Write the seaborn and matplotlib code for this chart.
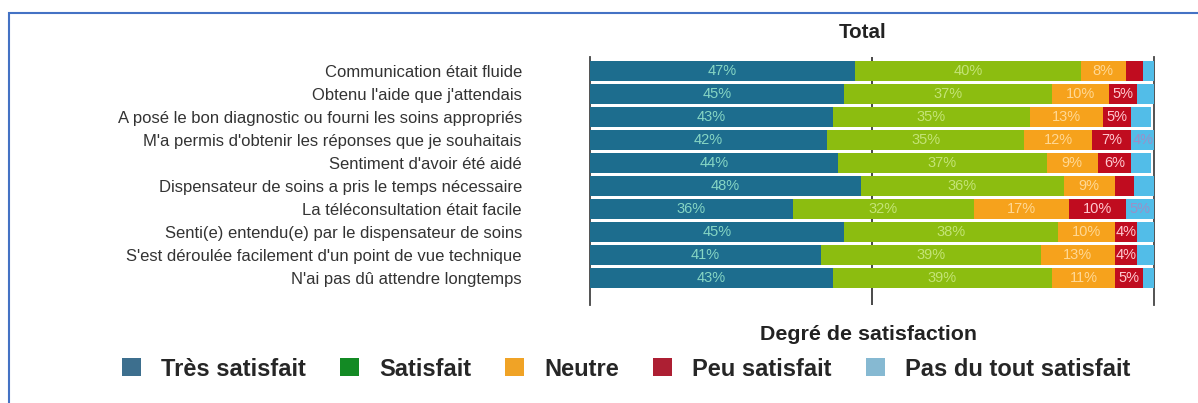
import numpy as np
import pandas as pd
import seaborn as sns
import matplotlib.pyplot as plt
from matplotlib.patches import Patch, Rectangle

# Data (percent per answer)
items = [
    "Communication était fluide",
    "Obtenu l'aide que j'attendais",
    "A posé le bon diagnostic ou fourni les soins appropriés",
    "M'a permis d'obtenir les réponses que je souhaitais",
    "Sentiment d'avoir été aidé",
    "Dispensateur de soins a pris le temps nécessaire",
    "La téléconsultation était facile",
    "Senti(e) entendu(e) par le dispensateur de soins",
    "S'est déroulée facilement d'un point de vue technique",
    "N'ai pas dû attendre longtemps",
]
tres_satisfait = [47, 45, 43, 42, 44, 48, 36, 45, 41, 43]
satisfait = [40, 37, 35, 35, 37, 36, 32, 38, 39, 39]
neutre = [8, 10, 13, 12, 9, 9, 17, 10, 13, 11]
peu_satisfait = [3, 5, 5, 7, 6, 3.5, 10, 4, 4, 5]
pas_du_tout = [2, 3, 3.5, 4, 3.5, 3.5, 5, 3, 3, 2]

categories = ["Très satisfait", "Satisfait", "Neutre", "Peu satisfait", "Pas du tout satisfait"]

df = pd.DataFrame({
    "item": items,
    "Très satisfait": tres_satisfait,
    "Satisfait": satisfait,
    "Neutre": neutre,
    "Peu satisfait": peu_satisfait,
    "Pas du tout satisfait": pas_du_tout,
})
cum = df[categories].cumsum(axis=1)

bar_colors = ["#1d6d8e", "#8cbd10", "#f6a21c", "#c00c1f", "#52bde8"]
text_colors = ["#86d6c4", "#c4e476", "#ffd894", "#ffc8cf", "#9a90c8"]
legend_colors = ["#3d6f8e", "#138a24", "#f0a326", "#ad1f33", "#86b9d2"]

sns.set_theme(style="white")
plt.rcParams["font.family"] = ["Liberation Sans", "DejaVu Sans"]

fig = plt.figure(figsize=(11.98, 4.03), dpi=100)
ax = fig.add_axes([590 / 1198, 98 / 403, 564 / 1198, 248 / 403])

# stacked bars: draw cumulative totals from the outermost segment inward
for cat, col in reversed(list(zip(categories, bar_colors))):
    sns.barplot(x=cum[cat], y=df["item"], order=items, color=col, saturation=1,
                width=0.83, orient="h", ax=ax, linewidth=0, zorder=2)

# segment labels
for i, item in enumerate(items):
    for j, cat in enumerate(categories):
        v = df.loc[i, cat]
        if v >= 4:
            xc = cum.loc[i, cat] - v / 2
            ax.text(xc, i, f"{v:.0f}%", ha="center", va="center",
                    color=text_colors[j], fontsize=10.5, zorder=3)

ax.set_xlim(0, 100)
ax.set_ylim(9 + 27 / 23, -14 / 23)
ax.axvline(50, color="#3a3a3a", lw=1.3, zorder=1)
ax.set_xticks([])
ax.set_xlabel("")
ax.set_ylabel("")
ax.tick_params(axis="y", length=0, pad=49, labelsize=12, labelcolor="#333333")
for s in ["top", "bottom"]:
    ax.spines[s].set_visible(False)
for s in ["left", "right"]:
    ax.spines[s].set_color("#444444")
    ax.spines[s].set_linewidth(1.3)
    ax.spines[s].set_zorder(1)

fig.text(863 / 1198, 1 - 32 / 403, "Total", ha="center", va="center",
         fontweight="bold", fontsize=14.8, color="#222222")
fig.text(868 / 1198, 1 - 335 / 403, "Degré de satisfaction", ha="center", va="center",
         fontweight="bold", fontsize=15.4, color="#222222")

handles = [Patch(facecolor=c, edgecolor="none", label=l) for l, c in zip(categories, legend_colors)]
fig.legend(handles=handles, loc="center", bbox_to_anchor=(626 / 1198, 1 - 369 / 403),
           ncol=5, frameon=False, prop=dict(weight="bold", size=17),
           handlelength=0.8, handleheight=0.8, handletextpad=0.85, columnspacing=1.45,
           borderpad=0, borderaxespad=0)

# blue frame around the picture
fig.add_artist(Rectangle((9 / 1198, -0.1), 1.2, 1.1 - 13 / 403, transform=fig.transFigure,
                         fill=False, edgecolor="#4472c4", lw=1.5))

fig.savefig("out.png", dpi=100)
